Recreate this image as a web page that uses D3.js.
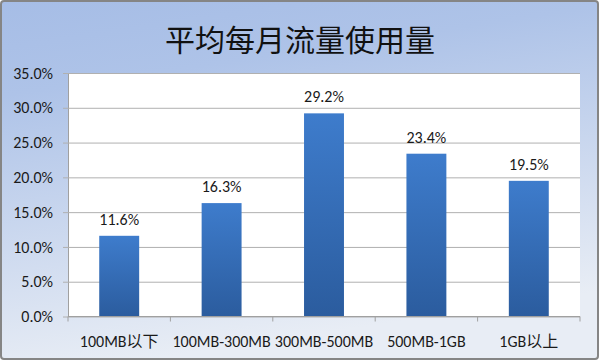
<!DOCTYPE html>
<html>
<head>
<meta charset="utf-8">
<script src="https://cdn.jsdelivr.net/npm/d3@7"></script>
<style>
html,body{margin:0;padding:0;background:#fff;}
svg{display:block;}
</style>
</head>
<body>
<svg id="chart" width="599" height="360"></svg>
<script>
const title = "平均每月流量使用量";
const categories = ["100MB以下", "100MB-300MB", "300MB-500MB", "500MB-1GB", "1GB以上"];
const values = [11.6, 16.3, 29.2, 23.4, 19.5];
const yTicks = [0, 5, 10, 15, 20, 25, 30, 35];

const W = 599, H = 360;
const plot = {left: 68, right: 580, top: 73, bottom: 316.5};
const font = "Carlito, Calibri, 'Noto Sans', 'Noto Sans CJK SC', sans-serif";

const svg = d3.select("#chart");
const defs = svg.append("defs");

const bg = defs.append("linearGradient").attr("id", "bg").attr("x1", 0).attr("y1", 0).attr("x2", 0.25).attr("y2", 1);
bg.append("stop").attr("offset", "0%").attr("stop-color", "#a6bde6");
bg.append("stop").attr("offset", "25%").attr("stop-color", "#aec3e8");
bg.append("stop").attr("offset", "100%").attr("stop-color", "#e8edf5");

const barG = defs.append("linearGradient").attr("id", "barg").attr("x1", 0).attr("y1", 0).attr("x2", 0).attr("y2", 1);
barG.append("stop").attr("offset", "0%").attr("stop-color", "#3e7ccc");
barG.append("stop").attr("offset", "100%").attr("stop-color", "#2b5c9e");

// background & border
svg.append("rect").attr("x", 1).attr("y", 1).attr("width", W - 2).attr("height", H - 2)
  .attr("rx", 3).attr("fill", "url(#bg)").attr("stroke", "#858585").attr("stroke-width", 2);

// title
svg.append("text").attr("x", 300).attr("y", 51).attr("text-anchor", "middle")
  .attr("font-family", "'Noto Sans CJK SC', sans-serif").attr("font-size", 30).attr("font-weight", 400)
  .attr("fill", "#111").text(title);

const x = d3.scaleBand().domain(categories).range([plot.left, plot.right]).paddingInner(0.61).paddingOuter(0.305);
const y = d3.scaleLinear().domain([0, 35]).range([plot.bottom, plot.top]);

// plot area
svg.append("rect").attr("x", plot.left).attr("y", plot.top)
  .attr("width", plot.right - plot.left).attr("height", plot.bottom - plot.top).attr("fill", "#fff");

// gridlines + y axis
const yAxis = d3.axisLeft(y).tickValues(yTicks).tickFormat(d => d.toFixed(1) + "%")
  .tickSize(-(plot.right - plot.left)).tickSizeOuter(0).tickPadding(15);
const gy = svg.append("g").attr("transform", `translate(${plot.left},0)`).call(yAxis);
gy.select(".domain").attr("stroke", "#a0a0a0");
gy.selectAll(".tick line").attr("stroke", "#b0b0b0").attr("x1", -5);
gy.selectAll(".tick text").attr("font-family", font).attr("font-size", 16).attr("fill", "#1a1a1a");

// bars
svg.append("g").selectAll("rect").data(values).join("rect")
  .attr("x", (d, i) => x(categories[i]))
  .attr("y", d => y(d))
  .attr("width", x.bandwidth())
  .attr("height", d => y(0) - y(d))
  .attr("fill", "url(#barg)");

// data labels
svg.append("g").selectAll("text").data(values).join("text")
  .attr("x", (d, i) => x(categories[i]) + x.bandwidth() / 2)
  .attr("y", d => y(d) - 11)
  .attr("text-anchor", "middle")
  .attr("font-family", font).attr("font-size", 16).attr("fill", "#1a1a1a")
  .text(d => d.toFixed(1) + "%");

// x axis with ticks between categories
const xb = d3.scaleLinear().domain([0, categories.length]).range([plot.left, plot.right]);
const gx = svg.append("g").attr("transform", `translate(0,${plot.bottom})`);
gx.append("line").attr("x1", plot.left).attr("x2", plot.right).attr("stroke", "#a0a0a0");
gx.selectAll("line.tk").data(d3.range(categories.length + 1)).join("line").attr("class", "tk")
  .attr("x1", d => xb(d)).attr("x2", d => xb(d)).attr("y1", 0).attr("y2", 5).attr("stroke", "#a0a0a0");
gx.selectAll("text").data(categories).join("text")
  .attr("x", d => x(d) + x.bandwidth() / 2)
  .attr("y", 30)
  .attr("text-anchor", "middle")
  .attr("font-family", font).attr("font-size", 16).attr("fill", "#1a1a1a")
  .text(d => d);
</script>
</body>
</html>
